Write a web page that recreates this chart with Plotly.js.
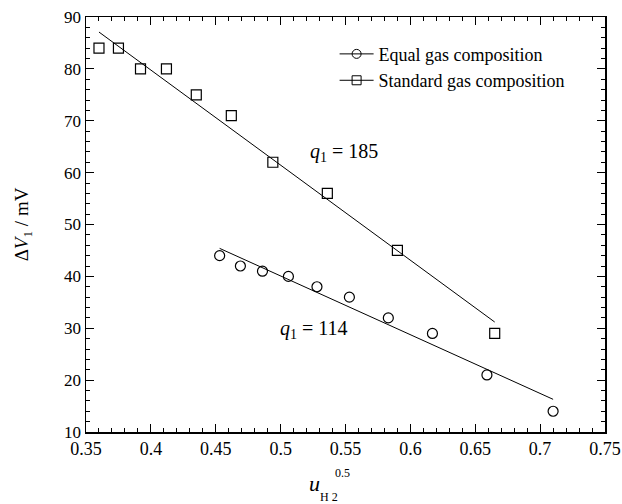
<!DOCTYPE html>
<html>
<head>
<meta charset="utf-8">
<script src="https://cdn.plot.ly/plotly-3.0.1.min.js"></script>
<style>html,body{margin:0;padding:0;background:#fff;}#chart{width:622px;height:504px;}</style>
</head>
<body>
<div id="chart"></div>
<script>
// Standard gas composition (squares)
const stdX = [0.360, 0.375, 0.392, 0.412, 0.435, 0.462, 0.494, 0.536, 0.590, 0.665];
const stdY = [84, 84, 80, 80, 75, 71, 62, 56, 45, 29];
// Equal gas composition (circles)
const eqX = [0.453, 0.469, 0.486, 0.506, 0.528, 0.553, 0.583, 0.617, 0.659, 0.710];
const eqY = [44, 42, 41, 40, 38, 36, 32, 29, 21, 14];
// Fitted lines (end points)
const stdFitX = [0.360, 0.665];
const stdFitY = [87.1, 31.2];
const eqFitX = [0.453, 0.710];
const eqFitY = [45.4, 16.3];
// Labels
const seriesNames = ["Equal gas composition", "Standard gas composition"];
const slopeLabels = ["<i>q</i><sub>1</sub> = 185", "<i>q</i><sub>1</sub> = 114"];
const slopeLabelPos = [[0.549, 63.8], [0.526, 29.8]];

const font = "Liberation Serif";

const traces = [
  {x: stdFitX, y: stdFitY, mode: "lines", line: {color: "#000", width: 1}, showlegend: false, hoverinfo: "skip"},
  {x: eqFitX, y: eqFitY, mode: "lines", line: {color: "#000", width: 1}, showlegend: false, hoverinfo: "skip"},
  {x: stdX, y: stdY, mode: "markers", marker: {symbol: "square-open", size: 10, color: "#000", line: {width: 1.2}}, showlegend: false},
  {x: eqX, y: eqY, mode: "markers", marker: {symbol: "circle-open", size: 10, color: "#000", line: {width: 1.2}}, showlegend: false},
  {x: [null], y: [null], mode: "lines+markers", name: seriesNames[0], line: {color: "#000", width: 1}, marker: {symbol: "circle-open", size: 9, color: "#000"}},
  {x: [null], y: [null], mode: "lines+markers", name: seriesNames[1], line: {color: "#000", width: 1}, marker: {symbol: "square-open", size: 9, color: "#000"}}
];

const axisCommon = {
  showgrid: false, zeroline: false, showline: true, linecolor: "#000", linewidth: 1.5,
  mirror: "allticks", ticks: "inside", ticklen: 8, tickwidth: 1.2, tickcolor: "#000"
};

const layout = {
  width: 622, height: 504,
  margin: {l: 86, r: 17, t: 17, b: 72},
  paper_bgcolor: "#fff", plot_bgcolor: "#fff",
  font: {family: font, color: "#000"},
  showlegend: true,
  legend: {x: 0.479, y: 0.955, xanchor: "left", yanchor: "top", bgcolor: "rgba(0,0,0,0)",
           font: {family: font, size: 18, color: "#000"}, tracegroupgap: 0, itemwidth: 34},
  xaxis: Object.assign({}, axisCommon, {
    range: [0.35, 0.75], dtick: 0.05, tick0: 0.35,
    tickfont: {family: font, size: 18},
    minor: {ticks: "inside", dtick: 0.01, ticklen: 4, tickwidth: 1, tickcolor: "#000"}
  }),
  yaxis: Object.assign({}, axisCommon, {
    range: [10, 90], dtick: 10, tick0: 10,
    tickfont: {family: font, size: 17},
    minor: {ticks: "inside", dtick: 2, ticklen: 4, tickwidth: 1, tickcolor: "#000"},
    title: {text: "Δ<i>V</i><sub>1</sub> / mV", font: {family: font, size: 19}, standoff: 30}
  }),
  annotations: [
    {x: slopeLabelPos[0][0], y: slopeLabelPos[0][1], xref: "x", yref: "y", text: slopeLabels[0], showarrow: false, font: {family: font, size: 20}, xanchor: "center"},
    {x: slopeLabelPos[1][0], y: slopeLabelPos[1][1], xref: "x", yref: "y", text: slopeLabels[1], showarrow: false, font: {family: font, size: 20}, xanchor: "center"},
    {x: 0.441, y: -0.125, xref: "paper", yref: "paper", text: "<i>u</i>", showarrow: false, font: {family: font, size: 22}, xanchor: "center", yanchor: "middle"},
    {x: 0.468, y: -0.156, xref: "paper", yref: "paper", text: "H 2", showarrow: false, font: {family: font, size: 12}, xanchor: "center", yanchor: "middle"},
    {x: 0.495, y: -0.099, xref: "paper", yref: "paper", text: "0.5", showarrow: false, font: {family: font, size: 12}, xanchor: "center", yanchor: "middle"}
  ]
};

Plotly.newPlot("chart", traces, layout, {staticPlot: true, displayModeBar: false});
</script>
</body>
</html>
